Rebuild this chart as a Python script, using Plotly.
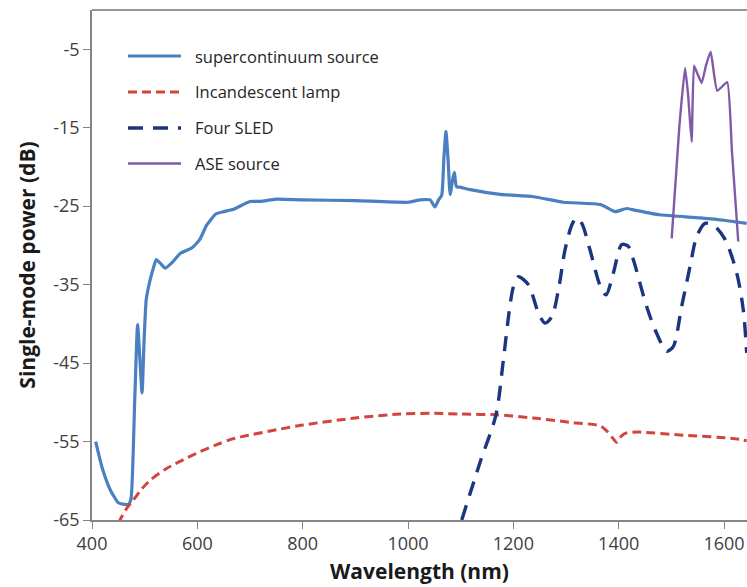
import plotly.graph_objects as go

# ---------------- data ----------------
sc_x = [407, 420, 435, 450, 461, 469, 474, 481, 486.5, 490.5, 495, 499, 503, 510, 516, 522, 530, 539,
        552, 568, 590, 605, 618, 635, 650, 669, 700, 720, 750, 800, 900, 1000, 1023, 1042, 1051, 1058,
        1064, 1068, 1072, 1076, 1080, 1085, 1088, 1092, 1100, 1118, 1175, 1238, 1295, 1366, 1393, 1415,
        1430, 1478, 1554, 1600, 1643]
sc_y = [-55, -58.5, -61.2, -62.8, -63.0, -63.0, -62.3, -50, -40.1, -44, -48.8, -42, -36.9, -34.5, -33,
        -31.8, -32.3, -32.9, -32.2, -31.0, -30.3, -29.2, -27.4, -26.0, -25.7, -25.4, -24.4, -24.4, -24.1,
        -24.2, -24.3, -24.5, -24.2, -24.2, -25.1, -24.2, -23.6, -19, -15.5, -19, -23.5, -21.5, -20.7,
        -22.5, -22.6, -22.9, -23.5, -23.8, -24.5, -24.8, -25.7, -25.3, -25.5, -26.1, -26.5, -26.8, -27.2]

inc_x = [450, 465, 479, 495, 511, 540, 574, 605, 637, 665, 697, 750, 800, 900, 985, 1050, 1100, 1168,
         1238, 1314, 1365, 1378, 1388, 1396, 1405, 1415, 1440, 1522, 1617, 1643]
inc_y = [-65.4, -63.6, -62.4, -61.0, -59.9, -58.5, -57.3, -56.3, -55.4, -54.7, -54.2, -53.5, -52.9, -52.0,
         -51.5, -51.4, -51.5, -51.6, -52.0, -52.6, -53.0, -53.7, -54.5, -55.1, -54.3, -53.9, -53.8, -54.2,
         -54.6, -54.9]

sled_x = [1102, 1137, 1167, 1181, 1192.5, 1200, 1209.5, 1228.5, 1247.5, 1260, 1273, 1285.5, 1298, 1311,
          1320, 1330, 1345.6, 1365, 1376, 1390, 1405.7, 1418, 1427.7, 1453, 1472, 1491, 1503.6, 1519.5,
          1535.4, 1548, 1563.8, 1579.5, 1601.7, 1624, 1636.5, 1643]
sled_y = [-65, -57.6, -51.6, -44.6, -38.2, -35.3, -34.0, -35.0, -38.6, -39.9, -39.1, -35.7, -30.6, -27.4,
          -26.5, -27.2, -30.6, -35.2, -36.3, -33.5, -29.9, -30.1, -31.8, -37.8, -41.2, -43.5, -42.9, -37.8,
          -32.7, -28.9, -27.2, -27.4, -29.2, -33.5, -38.2, -43.7]

ase_x = [1500.6, 1515, 1526, 1532, 1538.5, 1543, 1550, 1557.5, 1566, 1574.6, 1587, 1606, 1615, 1627]
ase_y = [-29.1, -15, -7.4, -11, -16.8, -7.1, -8.2, -9.3, -7, -5.3, -10.3, -9.2, -18, -29.5]

x_ticks = [400, 600, 800, 1000, 1200, 1400, 1600]
y_ticks = [-65, -55, -45, -35, -25, -15, -5]
y_ticktext = ["-65", "-55", "-45", "-35", "-25", "-15", "-5"]

names = ["supercontinuum source", "Incandescent lamp", "Four SLED", "ASE source"]
colors = ["#4a7fc2", "#d4443f", "#1c3582", "#7f5aa8"]
widths = [3.2, 3, 3.4, 2.4]
dashes = ["solid", "9px,5px", "15px,10px", "solid"]

# ---------------- figure ----------------
fig = go.Figure()
series = [(sc_x, sc_y), (inc_x, inc_y), (sled_x, sled_y), (ase_x, ase_y)]
smooth = [0.5, 0.8, 0.8, 0.4]
for (xs, ys), nm, c, w, d, s in zip(series, names, colors, widths, dashes, smooth):
    fig.add_trace(go.Scatter(x=xs, y=ys, mode="lines", name=nm, showlegend=False,
                             line=dict(color=c, width=w, dash=d, shape="spline", smoothing=s)))

# custom legend (sample lines + labels)
W, H = 655.0, 510.0
rows_py = [56, 92, 128, 163.5]
for i, (nm, c, w, d) in enumerate(zip(names, colors, widths, dashes)):
    yp = (520 - rows_py[i]) / H
    fig.add_shape(type="line", xref="paper", yref="paper",
                  x0=(128 - 92) / W, x1=(181 - 92) / W, y0=yp, y1=yp,
                  line=dict(color=c, width=w, dash=d))
    fig.add_annotation(xref="paper", yref="paper", x=(193 - 92) / W, y=yp, text=nm,
                       showarrow=False, xanchor="left", yanchor="middle",
                       font=dict(family="Open Sans", size=16.5, color="#262626"))

# top border
fig.add_shape(type="line", xref="paper", yref="paper", x0=0, x1=1, y0=1, y1=1,
              line=dict(color="#303030", width=1.2))

fig.update_layout(
    width=747, height=587,
    margin=dict(l=92, r=0, t=10, b=67),
    paper_bgcolor="white", plot_bgcolor="white",
    font=dict(family="Open Sans", color="#404040"),
)
fig.update_xaxes(range=[400, 1643.6], tickvals=x_ticks, ticks="outside", ticklen=7, tickwidth=1.3,
                 tickcolor="#858585", showline=True, linecolor="#858585", linewidth=1.5,
                 showgrid=False, zeroline=False, tickfont=dict(size=18, color="#404040"),
                 title=dict(text="<b>Wavelength (nm)</b>", standoff=10,
                            font=dict(size=21, color="#1a1a1a")))
fig.update_yaxes(range=[-65, 0], tickvals=y_ticks, ticktext=y_ticktext, ticks="outside", ticklen=7,
                 tickwidth=1.3, tickcolor="#858585", showline=True, linecolor="#858585", linewidth=1.5,
                 showgrid=False, zeroline=False, tickfont=dict(size=18, color="#404040"),
                 title=dict(text="<b>Single-mode power (dB)</b>", standoff=12,
                            font=dict(size=21, color="#1a1a1a")))

fig.write_html("out.html")
